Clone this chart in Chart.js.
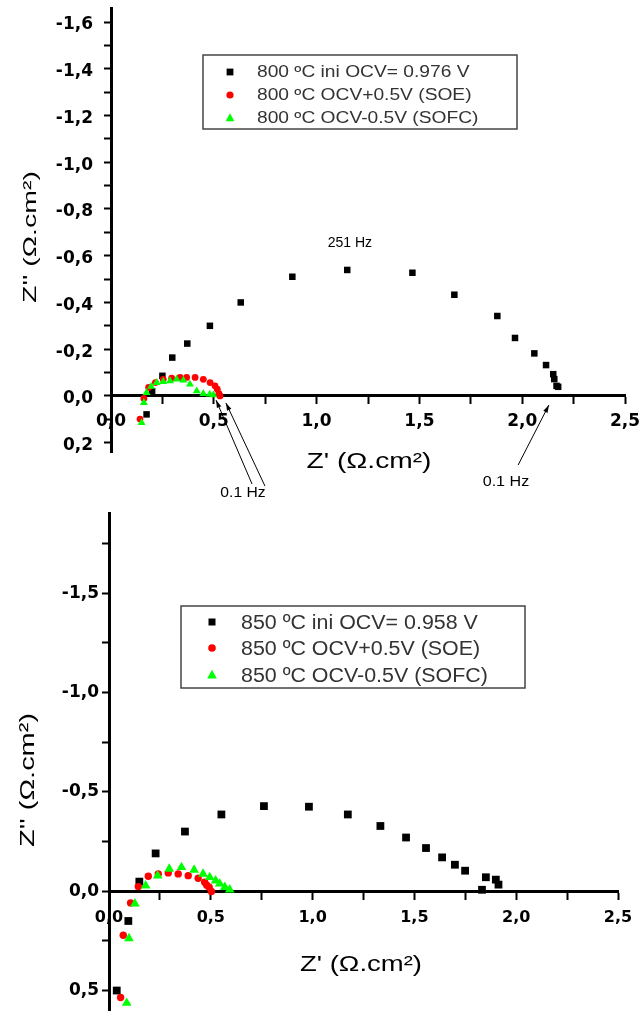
<!DOCTYPE html>
<html>
<head>
<meta charset="utf-8">
<script src="https://cdn.jsdelivr.net/npm/chart.js@4.4.1/dist/chart.umd.min.js"></script>
<style>
body{margin:0;background:#fff;}
canvas{display:block;}
</style>
</head>
<body>
<canvas id="canva1" width="643" height="508"></canvas>
<canvas id="canva2" width="643" height="508"></canvas>
<script>
// 800 ºC  (Z' , Z'')
const ini800X  = [0.173, 0.200, 0.250, 0.298, 0.371, 0.481, 0.631, 0.882, 1.149, 1.466, 1.670, 1.879, 1.965, 2.059, 2.116, 2.151, 2.156, 2.167, 2.175];
const ini800Y  = [0.079, -0.020, -0.086, -0.164, -0.224, -0.300, -0.400, -0.510, -0.539, -0.527, -0.433, -0.342, -0.248, -0.182, -0.132, -0.093, -0.072, -0.043, -0.039];
const soe800X  = [0.141, 0.160, 0.183, 0.216, 0.254, 0.295, 0.336, 0.368, 0.409, 0.449, 0.482, 0.506, 0.517, 0.525, 0.530];
const soe800Y  = [0.099, 0.011, -0.036, -0.057, -0.071, -0.076, -0.079, -0.079, -0.079, -0.071, -0.057, -0.043, -0.029, -0.010, 0.000];
const sofc800X = [0.149, 0.160, 0.173, 0.195, 0.222, 0.254, 0.287, 0.319, 0.352, 0.384, 0.417, 0.449, 0.480, 0.498];
const sofc800Y = [0.115, 0.029, -0.014, -0.040, -0.057, -0.061, -0.064, -0.071, -0.067, -0.050, -0.021, -0.010, -0.007, -0.004];
const labels800 = ["800 ºC ini OCV= 0.976 V", "800 ºC OCV+0.5V (SOE)", "800 ºC OCV-0.5V (SOFC)"];

// 850 ºC
const ini850X  = [0.038, 0.095, 0.149, 0.229, 0.373, 0.552, 0.761, 0.982, 1.173, 1.333, 1.459, 1.557, 1.636, 1.699, 1.749, 1.832, 1.851, 1.900, 1.913];
const ini850Y  = [0.500, 0.150, -0.048, -0.190, -0.300, -0.386, -0.428, -0.425, -0.386, -0.328, -0.270, -0.217, -0.170, -0.133, -0.103, -0.007, -0.070, -0.058, -0.033];
const soe850X  = [0.057, 0.070, 0.106, 0.144, 0.193, 0.242, 0.291, 0.340, 0.389, 0.438, 0.470, 0.480, 0.492, 0.503];
const soe850Y  = [0.535, 0.222, 0.059, -0.023, -0.075, -0.087, -0.092, -0.087, -0.078, -0.065, -0.045, -0.030, -0.020, 0.002];
const sofc850X = [0.087, 0.098, 0.127, 0.180, 0.239, 0.296, 0.356, 0.418, 0.462, 0.495, 0.524, 0.544, 0.569, 0.593];
const sofc850Y = [0.563, 0.238, 0.063, -0.028, -0.078, -0.112, -0.120, -0.107, -0.087, -0.070, -0.053, -0.037, -0.020, -0.008];
const labels850 = ["850 ºC ini OCV= 0.958 V", "850 ºC OCV+0.5V (SOE)", "850 ºC OCV-0.5V (SOFC)"];

// marcas de los ejes (las mayores llevan etiqueta)
const ticksX    = [0, 0.25, 0.5, 0.75, 1, 1.25, 1.5, 1.75, 2, 2.25, 2.5];
const ticksY800 = [-1.6, -1.5, -1.4, -1.3, -1.2, -1.1, -1.0, -0.9, -0.8, -0.7, -0.6, -0.5, -0.4, -0.3, -0.2, -0.1, 0, 0.1, 0.2];
const ticksY850 = [-1.75, -1.5, -1.25, -1.0, -0.75, -0.5, -0.25, 0, 0.25, 0.5];

const colores = ["#000000", "#ff0000", "#00ff00"];
const estilos = ["rect", "circle", "triangle"];

function puntos(xs, ys){
    return xs.map((x, i) => ({x: x, y: ys[i]}));
}
function esMayor(v, m){
    return Math.abs(v / m - Math.round(v / m)) < 1e-6;
}
function coma(v){
    if(Math.abs(v) < 1e-9) v = 0;
    return v.toFixed(1).replace(".", ",");
}

function marcador(ctx, estilo, x, y, r){
    ctx.beginPath();
    if(estilo == "rect"){
        ctx.rect(x - r, y - r, 2 * r, 2 * r);
    }
    else if(estilo == "circle"){
        ctx.arc(x, y, r, 0, Math.PI * 2);
    }
    else{
        ctx.moveTo(x, y - r * 1.1);
        ctx.lineTo(x + r, y + r * 0.75);
        ctx.lineTo(x - r, y + r * 0.75);
        ctx.closePath();
    }
    ctx.fill();
}

function texto(ctx, t, x, y, font, sx, rot){
    ctx.save();
    ctx.translate(x, y);
    ctx.rotate(rot || 0);
    ctx.scale(sx, 1);
    ctx.font = font;
    ctx.textAlign = "center";
    ctx.textBaseline = "middle";
    ctx.fillText(t, 0, 0);
    ctx.restore();
}

// leyenda, titulos de ejes y notas
const extras = {
    id: "extras",
    afterDraw(chart, args, o){
        const ctx = chart.ctx;
        const sx = chart.scales.x, sy = chart.scales.y;
        ctx.save();
        // leyenda
        const lg = o.leyenda;
        ctx.strokeStyle = "#444";
        ctx.lineWidth = 1.5;
        ctx.strokeRect(lg.x, lg.y, lg.w, lg.h);
        chart.data.datasets.forEach((ds, i) => {
            ctx.fillStyle = colores[i];
            marcador(ctx, estilos[i], lg.markX, lg.filas[i], lg.radios[i]);
            ctx.fillStyle = "#333";
            ctx.save();
            ctx.translate(lg.textX, lg.filas[i]);
            ctx.scale(lg.sx, 1);
            ctx.font = lg.font;
            ctx.textAlign = "left";
            ctx.textBaseline = "middle";
            ctx.fillText(ds.label, 0, 1);
            ctx.restore();
        });
        // titulos
        ctx.fillStyle = "#000";
        const tx = o.tituloX, ty = o.tituloY;
        texto(ctx, "Z' (Ω.cm²)", tx.x, tx.y, tx.font, tx.sx, 0);
        texto(ctx, "Z'' (Ω.cm²)", ty.x, ty.y, ty.font, ty.sx, -Math.PI / 2);
        // notas y flechas
        (o.notas || []).forEach(n => {
            texto(ctx, n.t, sx.getPixelForValue(n.x), sy.getPixelForValue(n.y), "14px 'Liberation Sans'", n.sx || 1, 0);
        });
        ctx.strokeStyle = "#000";
        ctx.lineWidth = 1;
        (o.flechas || []).forEach(f => {
            const x1 = sx.getPixelForValue(f[0]), y1 = sy.getPixelForValue(f[1]);
            const x2 = sx.getPixelForValue(f[2]), y2 = sy.getPixelForValue(f[3]);
            ctx.beginPath();
            ctx.moveTo(x1, y1);
            ctx.lineTo(x2, y2);
            ctx.stroke();
            const a = Math.atan2(y2 - y1, x2 - x1);
            ctx.beginPath();
            ctx.moveTo(x2, y2);
            ctx.lineTo(x2 - 8 * Math.cos(a - 0.3), y2 - 8 * Math.sin(a - 0.3));
            ctx.lineTo(x2 - 8 * Math.cos(a + 0.3), y2 - 8 * Math.sin(a + 0.3));
            ctx.closePath();
            ctx.fill();
        });
        ctx.restore();
    }
};

function ejes(c){
    const grid = {drawOnChartArea: false, drawTicks: true, tickLength: 7, tickColor: "#000", tickWidth: 2};
    const borde = {display: true, color: "#000", width: 3};
    return {
        x: {
            type: "linear", position: {y: 0}, min: 0, max: 2.5, bounds: "data",
            border: borde, grid: grid,
            afterBuildTicks: s => { s.ticks = ticksX.map(v => ({value: v})); },
            ticks: {
                autoSkip: false, maxRotation: 0,
                padding: c.xPad, color: "#000",
                font: {family: "DejaVu Sans", size: c.xFont, weight: "bold"},
                callback: v => esMayor(v, 0.5) ? coma(v) : ""
            },
            afterFit: s => { s.paddingLeft = 0; s.paddingRight = 0; }
        },
        y: {
            type: "linear", position: "left", reverse: true, min: c.yMin, max: c.yMax, bounds: "data",
            border: borde, grid: grid,
            afterBuildTicks: s => { s.ticks = c.yTicks.map(v => ({value: v})); },
            ticks: {
                autoSkip: false,
                padding: c.yPad, labelOffset: c.yOff, color: "#000",
                font: {family: "DejaVu Sans", size: c.yFont, weight: "bold"},
                callback: v => esMayor(v, c.yMajor) ? coma(v) : ""
            },
            afterFit: s => { s.width = c.izq; s.paddingTop = 0; s.paddingBottom = 0; }
        }
    };
}

function series(etiquetas, datos, radios){
    return datos.map((d, i) => ({
        label: etiquetas[i],
        data: d,
        showLine: false,
        pointStyle: estilos[i],
        pointRadius: radios[i],
        pointHoverRadius: radios[i],
        backgroundColor: colores[i],
        borderColor: colores[i],
        pointBorderWidth: 0,
        order: 2 - i,
        clip: false
    }));
}

window.onload = function(){
    let canva1 = document.getElementById("canva1").getContext("2d");
    let grafico800 = new Chart(canva1, {
        type: "scatter",
        data: {
            datasets: series(labels800, [
                puntos(ini800X, ini800Y),
                puntos(soe800X, soe800Y),
                puntos(sofc800X, sofc800Y)
            ], [4.6, 3.4, 4.6])
        },
        options: {
            responsive: false,
            animation: false,
            devicePixelRatio: 1,
            layout: {padding: {top: 8, right: 18, bottom: 56, left: 0}},
            scales: ejes({yMin: -1.66, yMax: 0.24, yTicks: ticksY800, yMajor: 0.2, izq: 111,
                          xPad: 8, xFont: 17, yPad: 11, yFont: 17, yOff: 3}),
            plugins: {
                legend: {display: false},
                tooltip: {enabled: false},
                extras: {
                    leyenda: {x: 203, y: 55, w: 314, h: 74, filas: [72, 95, 118], markX: 230, textX: 257,
                              radios: [3.4, 3.6, 4.4], font: "16px 'Liberation Sans'", sx: 1.2},
                    tituloX: {x: 369, y: 462, font: "22px 'Liberation Sans'", sx: 1.28},
                    tituloY: {x: 31, y: 237, font: "19px 'Liberation Sans'", sx: 1.5},
                    notas: [
                        {t: "251 Hz", x: 1.162, y: -0.654},
                        {t: "0.1 Hz", x: 0.642, y: 0.415, sx: 1.12},
                        {t: "0.1 Hz", x: 1.921, y: 0.368, sx: 1.15}
                    ],
                    flechas: [
                        [0.686, 0.377, 0.511, 0.018],
                        [0.749, 0.386, 0.559, 0.030],
                        [1.980, 0.296, 2.130, 0.039]
                    ]
                }
            }
        },
        plugins: [extras]
    });

    let canva2 = document.getElementById("canva2").getContext("2d");
    let grafico850 = new Chart(canva2, {
        type: "scatter",
        data: {
            datasets: series(labels850, [
                puntos(ini850X, ini850Y),
                puntos(soe850X, soe850Y),
                puntos(sofc850X, sofc850Y)
            ], [5.5, 3.7, 5.6])
        },
        options: {
            responsive: false,
            animation: false,
            devicePixelRatio: 1,
            layout: {padding: {top: 4, right: 25, bottom: 3, left: 0}},
            scales: ejes({yMin: -1.9, yMax: 0.6, yTicks: ticksY850, yMajor: 0.5, izq: 109,
                          xPad: 10, xFont: 16, yPad: 3, yFont: 17, yOff: 0}),
            plugins: {
                legend: {display: false},
                tooltip: {enabled: false},
                extras: {
                    leyenda: {x: 181, y: 98, w: 344, h: 82, filas: [114, 140, 167], markX: 212, textX: 241,
                              radios: [3.5, 3.8, 4.8], font: "20px 'Liberation Sans'", sx: 1.07},
                    tituloX: {x: 361, y: 457, font: "22px 'Liberation Sans'", sx: 1.25},
                    tituloY: {x: 28, y: 272, font: "21px 'Liberation Sans'", sx: 1.38}
                }
            }
        },
        plugins: [extras]
    });
}
</script>
</body>
</html>
